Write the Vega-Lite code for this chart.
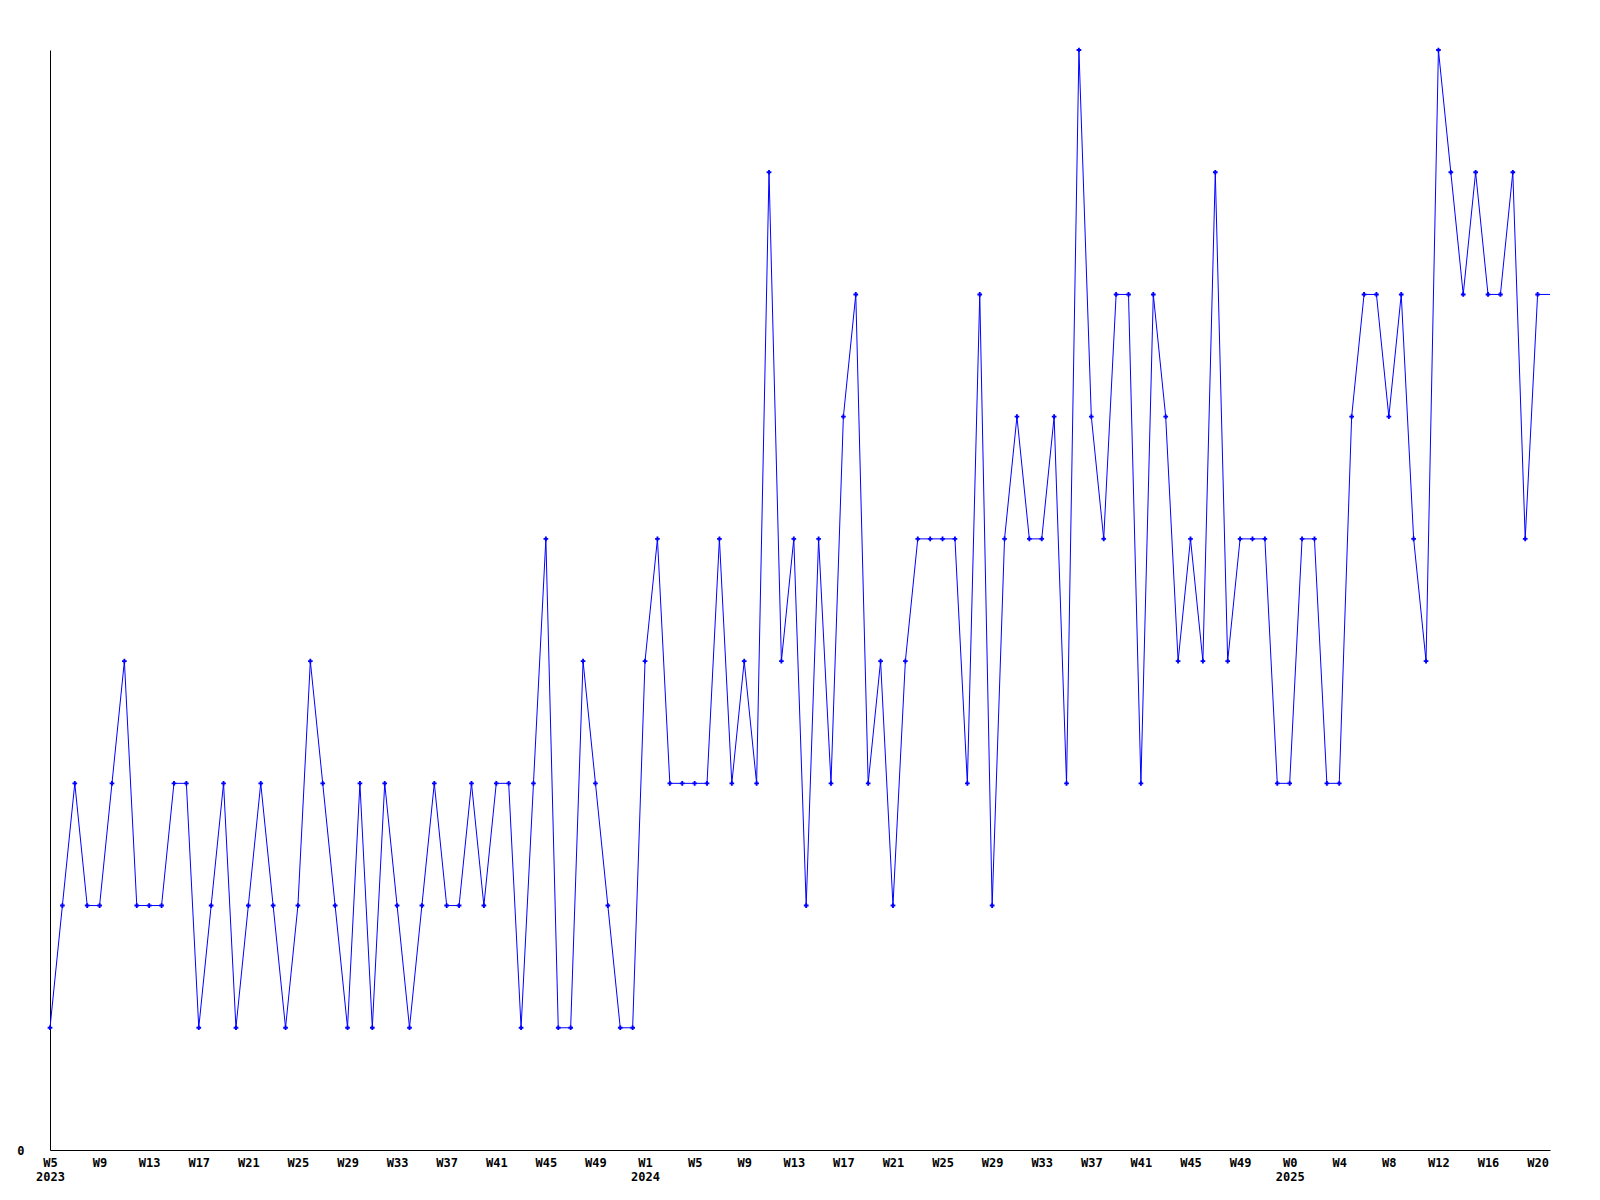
{
  "$schema": "https://vega.github.io/schema/vega-lite/v6.json",
  "width": 1500,
  "height": 1100,
  "autosize": {"type": "none"},
  "padding": {"left": 50, "top": 50, "right": 50, "bottom": 50},
  "background": "white",
  "config": {"view": {"stroke": null}},
  "data": {"values": [
    {"week": "2023 W5", "v": 1}, {"week": "2023 W6", "v": 2}, {"week": "2023 W7", "v": 3}, {"week": "2023 W8", "v": 2},
    {"week": "2023 W9", "v": 2}, {"week": "2023 W10", "v": 3}, {"week": "2023 W11", "v": 4}, {"week": "2023 W12", "v": 2},
    {"week": "2023 W13", "v": 2}, {"week": "2023 W14", "v": 2}, {"week": "2023 W15", "v": 3}, {"week": "2023 W16", "v": 3},
    {"week": "2023 W17", "v": 1}, {"week": "2023 W18", "v": 2}, {"week": "2023 W19", "v": 3}, {"week": "2023 W20", "v": 1},
    {"week": "2023 W21", "v": 2}, {"week": "2023 W22", "v": 3}, {"week": "2023 W23", "v": 2}, {"week": "2023 W24", "v": 1},
    {"week": "2023 W25", "v": 2}, {"week": "2023 W26", "v": 4}, {"week": "2023 W27", "v": 3}, {"week": "2023 W28", "v": 2},
    {"week": "2023 W29", "v": 1}, {"week": "2023 W30", "v": 3}, {"week": "2023 W31", "v": 1}, {"week": "2023 W32", "v": 3},
    {"week": "2023 W33", "v": 2}, {"week": "2023 W34", "v": 1}, {"week": "2023 W35", "v": 2}, {"week": "2023 W36", "v": 3},
    {"week": "2023 W37", "v": 2}, {"week": "2023 W38", "v": 2}, {"week": "2023 W39", "v": 3}, {"week": "2023 W40", "v": 2},
    {"week": "2023 W41", "v": 3}, {"week": "2023 W42", "v": 3}, {"week": "2023 W43", "v": 1}, {"week": "2023 W44", "v": 3},
    {"week": "2023 W45", "v": 5}, {"week": "2023 W46", "v": 1}, {"week": "2023 W47", "v": 1}, {"week": "2023 W48", "v": 4},
    {"week": "2023 W49", "v": 3}, {"week": "2023 W50", "v": 2}, {"week": "2023 W51", "v": 1}, {"week": "2023 W52", "v": 1},
    {"week": "2024 W1", "v": 4}, {"week": "2024 W2", "v": 5}, {"week": "2024 W3", "v": 3}, {"week": "2024 W4", "v": 3},
    {"week": "2024 W5", "v": 3}, {"week": "2024 W6", "v": 3}, {"week": "2024 W7", "v": 5}, {"week": "2024 W8", "v": 3},
    {"week": "2024 W9", "v": 4}, {"week": "2024 W10", "v": 3}, {"week": "2024 W11", "v": 8}, {"week": "2024 W12", "v": 4},
    {"week": "2024 W13", "v": 5}, {"week": "2024 W14", "v": 2}, {"week": "2024 W15", "v": 5}, {"week": "2024 W16", "v": 3},
    {"week": "2024 W17", "v": 6}, {"week": "2024 W18", "v": 7}, {"week": "2024 W19", "v": 3}, {"week": "2024 W20", "v": 4},
    {"week": "2024 W21", "v": 2}, {"week": "2024 W22", "v": 4}, {"week": "2024 W23", "v": 5}, {"week": "2024 W24", "v": 5},
    {"week": "2024 W25", "v": 5}, {"week": "2024 W26", "v": 5}, {"week": "2024 W27", "v": 3}, {"week": "2024 W28", "v": 7},
    {"week": "2024 W29", "v": 2}, {"week": "2024 W30", "v": 5}, {"week": "2024 W31", "v": 6}, {"week": "2024 W32", "v": 5},
    {"week": "2024 W33", "v": 5}, {"week": "2024 W34", "v": 6}, {"week": "2024 W35", "v": 3}, {"week": "2024 W36", "v": 9},
    {"week": "2024 W37", "v": 6}, {"week": "2024 W38", "v": 5}, {"week": "2024 W39", "v": 7}, {"week": "2024 W40", "v": 7},
    {"week": "2024 W41", "v": 3}, {"week": "2024 W42", "v": 7}, {"week": "2024 W43", "v": 6}, {"week": "2024 W44", "v": 4},
    {"week": "2024 W45", "v": 5}, {"week": "2024 W46", "v": 4}, {"week": "2024 W47", "v": 8}, {"week": "2024 W48", "v": 4},
    {"week": "2024 W49", "v": 5}, {"week": "2024 W50", "v": 5}, {"week": "2024 W51", "v": 5}, {"week": "2024 W52", "v": 3},
    {"week": "2025 W0", "v": 3}, {"week": "2025 W1", "v": 5}, {"week": "2025 W2", "v": 5}, {"week": "2025 W3", "v": 3},
    {"week": "2025 W4", "v": 3}, {"week": "2025 W5", "v": 6}, {"week": "2025 W6", "v": 7}, {"week": "2025 W7", "v": 7},
    {"week": "2025 W8", "v": 6}, {"week": "2025 W9", "v": 7}, {"week": "2025 W10", "v": 5}, {"week": "2025 W11", "v": 4},
    {"week": "2025 W12", "v": 9}, {"week": "2025 W13", "v": 8}, {"week": "2025 W14", "v": 7}, {"week": "2025 W15", "v": 8},
    {"week": "2025 W16", "v": 7}, {"week": "2025 W17", "v": 7}, {"week": "2025 W18", "v": 8}, {"week": "2025 W19", "v": 5},
    {"week": "2025 W20", "v": 7}, {"week": "2025 W21", "v": 7}
  ]},
  "encoding": {
    "x": {
      "field": "week", "type": "ordinal", "sort": null,
      "scale": {"type": "point", "padding": 0},
      "axis": {
        "title": null,
        "values": ["2023 W5", "2023 W9", "2023 W13", "2023 W17", "2023 W21", "2023 W25", "2023 W29", "2023 W33", "2023 W37", "2023 W41", "2023 W45", "2023 W49",
                   "2024 W1", "2024 W5", "2024 W9", "2024 W13", "2024 W17", "2024 W21", "2024 W25", "2024 W29", "2024 W33", "2024 W37", "2024 W41", "2024 W45", "2024 W49",
                   "2025 W0", "2025 W4", "2025 W8", "2025 W12", "2025 W16", "2025 W20"],
        "labelExpr": "(datum.value == '2023 W5' || datum.value == '2024 W1' || datum.value == '2025 W0') ? [split(datum.value, ' ')[1], split(datum.value, ' ')[0]] : split(datum.value, ' ')[1]",
        "labelAngle": 0,
        "labelDx": -3,
        "ticks": false,
        "grid": false,
        "domainColor": "black",
        "domainWidth": 1,
        "labelFont": "DejaVu Sans Mono",
        "labelFontWeight": "bold",
        "labelFontSize": 12,
        "labelColor": "black",
        "labelPadding": 7,
        "labelLineHeight": 14,
        "labelOverlap": false,
        "labelFlush": false
      }
    },
    "y": {
      "field": "v", "type": "quantitative",
      "scale": {"domain": [0, 9], "nice": false, "zero": true},
      "axis": {
        "title": null,
        "values": [0],
        "ticks": false,
        "grid": false,
        "domainColor": "black",
        "domainWidth": 1,
        "labelFont": "DejaVu Sans Mono",
        "labelFontWeight": "bold",
        "labelFontSize": 12,
        "labelColor": "black",
        "labelPadding": 26
      }
    }
  },
  "layer": [
    {"mark": {"type": "line", "color": "#0000ff", "strokeWidth": 1}},
    {
      "transform": [{"filter": "datum.week != '2025 W21'"}],
      "mark": {"type": "point", "shape": "cross", "filled": true, "size": 22, "color": "#0000ff", "opacity": 1}
    }
  ]
}
